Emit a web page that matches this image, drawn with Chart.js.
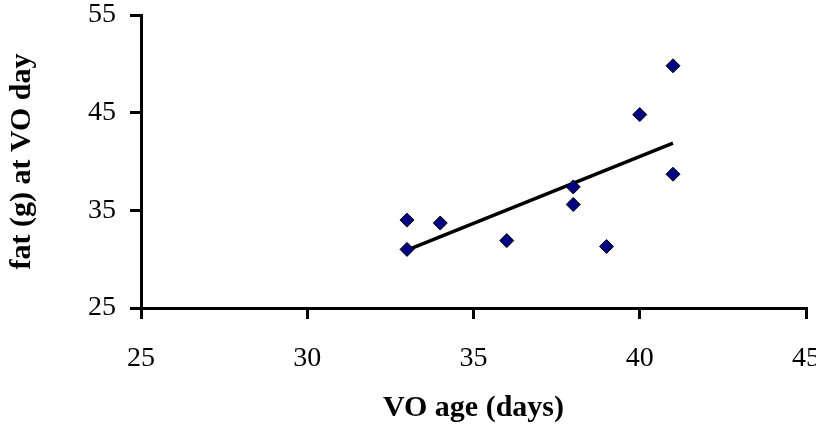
<!DOCTYPE html>
<html>
<head>
<meta charset="utf-8">
<script src="https://cdn.jsdelivr.net/npm/chart.js@4/dist/chart.umd.min.js"></script>
<style>
   html, body { margin: 0; padding: 0; background: #fff; }
   #wrap { width: 816px; height: 425px; }
</style>
</head>
<body>
<div id="wrap"><canvas id="chart"></canvas></div>
<script>
// VO age (days) and fat (g) at VO day, one entry per animal
var voAge = [33, 33, 34, 36, 38, 38, 39, 40, 41, 41];
var fatAtVO = [34.0, 31.0, 33.7, 31.9, 37.4, 35.6, 31.3, 44.8, 49.8, 38.7];

var xTicks = [25, 30, 35, 40, 45];
var yTicks = [25, 35, 45, 55];

// least squares line over the observed age range
function linearFit(xs, ys) {
   var n = xs.length, mx = 0, my = 0;
   for (var i = 0; i < n; i++) { mx += xs[i]; my += ys[i]; }
   mx /= n; my /= n;
   var sxy = 0, sxx = 0;
   for (var j = 0; j < n; j++) {
      sxy += (xs[j] - mx) * (ys[j] - my);
      sxx += (xs[j] - mx) * (xs[j] - mx);
   }
   var slope = sxy / sxx;
   var lo = Math.min.apply(null, xs), hi = Math.max.apply(null, xs);
   return [
      {x: lo, y: my + slope * (lo - mx)},
      {x: hi, y: my + slope * (hi - mx)}
   ];
}

var points = voAge.map(function(a, i) { return {x: a, y: fatAtVO[i]}; });

var serif = 'Liberation Serif, Times New Roman, serif';

// axis line plus outward tick marks, no grid inside the plot
function axisGrid() {
   return {
      display: true,
      drawOnChartArea: false,
      drawTicks: true,
      tickLength: 11,
      color: '#000',
      lineWidth: 3
   };
}

new Chart(document.getElementById('chart'), {
   type: 'scatter',
   data: {
      datasets: [{
         data: points,
         pointStyle: 'rectRot',
         pointRadius: 7,
         pointHoverRadius: 7,
         backgroundColor: '#000080',
         borderColor: '#000',
         borderWidth: 1
      }, {
         type: 'line',
         data: linearFit(voAge, fatAtVO),
         borderColor: '#000',
         borderWidth: 3.5,
         pointRadius: 0,
         fill: false
      }]
   },
   options: {
      responsive: true,
      maintainAspectRatio: false,
      animation: false,
      layout: {
         padding: { left: 0, right: 10, top: 15, bottom: 0 }
      },
      plugins: {
         legend: { display: false },
         tooltip: { enabled: false }
      },
      scales: {
         x: {
            type: 'linear',
            min: 25,
            max: 45,
            afterBuildTicks: function(scale) {
               scale.ticks = xTicks.map(function(v) { return {value: v}; });
            },
            // fixed band under the plot; last label may run past the edge
            afterFit: function(scale) {
               scale.height = 117;
               scale.paddingLeft = 0;
               scale.paddingRight = 0;
            },
            grid: axisGrid(),
            border: { display: true, color: '#000', width: 3 },
            ticks: {
               color: '#000',
               padding: 26,
               maxRotation: 0,
               font: { family: serif, size: 28, lineHeight: 1 }
            },
            title: {
               display: true,
               text: 'VO age (days)',
               color: '#000',
               padding: { top: 0, bottom: 2 },
               font: { family: serif, size: 30, weight: 'bold', lineHeight: 1 }
            }
         },
         y: {
            type: 'linear',
            min: 25,
            max: 55,
            afterBuildTicks: function(scale) {
               scale.ticks = yTicks.map(function(v) { return {value: v}; });
            },
            afterFit: function(scale) {
               scale.width = 141;
               scale.paddingTop = 0;
               scale.paddingBottom = 0;
            },
            grid: axisGrid(),
            border: { display: true, color: '#000', width: 3 },
            ticks: {
               color: '#000',
               padding: 14,
               font: { family: serif, size: 28, lineHeight: 1 }
            },
            title: {
               display: true,
               text: 'fat (g) at VO day',
               color: '#000',
               padding: { top: 7, bottom: 0 },
               font: { family: serif, size: 30, weight: 'bold', lineHeight: 1 }
            }
         }
      }
   }
});
</script>
</body>
</html>
